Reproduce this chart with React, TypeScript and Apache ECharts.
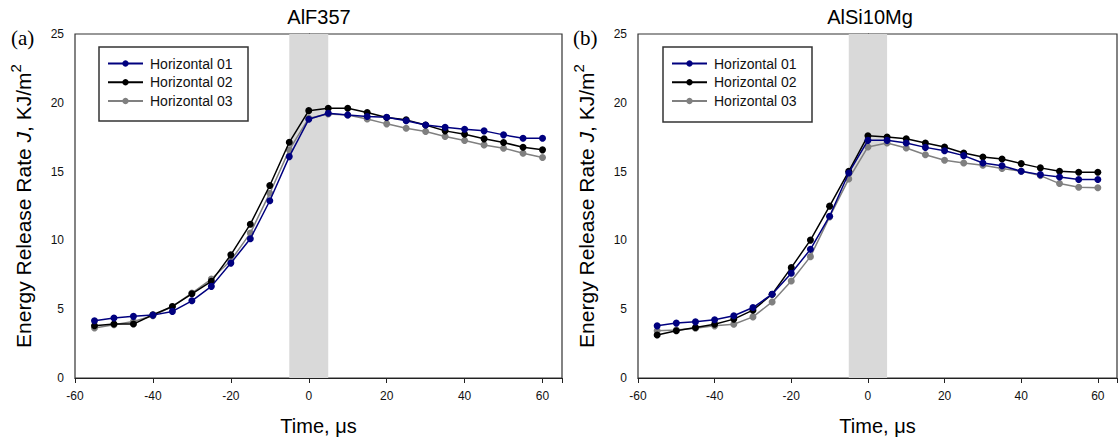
import React, { useEffect, useRef } from "react";
import * as echarts from "echarts";

const times = [-55, -50, -45, -40, -35, -30, -25, -20, -15, -10, -5, 0, 5, 10, 15, 20, 25, 30, 35, 40, 45, 50, 55, 60];

const a_h01 = [4.16, 4.36, 4.48, 4.57, 4.84, 5.61, 6.66, 8.35, 10.12, 12.88, 16.09, 18.8, 19.24, 19.12, 19.0, 18.95, 18.7, 18.39, 18.22, 18.08, 17.96, 17.67, 17.42, 17.42];
const a_h02 = [3.8, 3.92, 3.92, 4.6, 5.2, 6.12, 7.02, 8.95, 11.18, 13.99, 17.13, 19.43, 19.6, 19.6, 19.29, 18.93, 18.76, 18.39, 17.96, 17.72, 17.38, 17.11, 16.77, 16.58];
const a_h03 = [3.63, 3.87, 4.11, 4.53, 5.2, 6.17, 7.19, 8.54, 10.53, 13.43, 16.58, 18.88, 19.19, 19.12, 18.83, 18.47, 18.15, 17.91, 17.55, 17.26, 16.94, 16.7, 16.34, 16.02];

const b_h01 = [3.79, 3.99, 4.08, 4.23, 4.52, 5.12, 6.09, 7.61, 9.35, 11.76, 14.9, 17.27, 17.27, 17.08, 16.76, 16.52, 16.16, 15.63, 15.43, 15.02, 14.78, 14.61, 14.42, 14.42];
const b_h02 = [3.12, 3.43, 3.67, 3.91, 4.28, 4.93, 6.09, 8.02, 10.02, 12.49, 15.02, 17.61, 17.51, 17.39, 17.08, 16.79, 16.35, 16.06, 15.92, 15.58, 15.27, 15.02, 14.95, 14.95];
const b_h03 = [3.43, 3.48, 3.62, 3.79, 3.91, 4.44, 5.53, 7.05, 8.82, 11.71, 14.47, 16.79, 17.08, 16.71, 16.23, 15.82, 15.63, 15.46, 15.22, 15.02, 14.71, 14.13, 13.86, 13.82];

const seriesNames = ["Horizontal 01", "Horizontal 02", "Horizontal 03"];
const seriesColors = ["#00007f", "#000000", "#808080"];
const panelTitles = ["AlF357", "AlSi10Mg"];
const panelTags = ["(a)", "(b)"];
const bandRange = [-5, 5];
const xTicks = [-60, -40, -20, 0, 20, 40, 60];

const FONT = "Liberation Sans, Arial, sans-serif";

export default function App() {
  const ref = useRef<HTMLDivElement>(null);
  useEffect(() => {
    if (!ref.current) return;
    const chart = echarts.init(ref.current, null, { renderer: "svg" });
    const grids = [
      { left: 75, top: 34, width: 487, height: 344 },
      { left: 638, top: 34, width: 487, height: 344 },
    ];
    const panels = [
      [a_h01, a_h02, a_h03],
      [b_h01, b_h02, b_h03],
    ];
    const yName = "{a|Energy Release Rate }{i|J}{a|, KJ/m}{s|2}";
    const xAxes = grids.map((_, i) => ({
      type: "value",
      gridIndex: i,
      min: -60,
      max: 65,
      interval: 20,
      name: "Time, μs",
      nameLocation: "middle",
      nameGap: 38,
      nameTextStyle: { fontFamily: FONT, fontSize: 20, color: "#000" },
      axisLine: { lineStyle: { color: "#222", width: 1.2 } },
      axisTick: { show: true, inside: false, length: 5, lineStyle: { color: "#222" } },
      axisLabel: {
        fontFamily: FONT,
        fontSize: 12,
        color: "#111",
        margin: 12,
        formatter: (v: number) => (xTicks.indexOf(v) >= 0 ? String(v) : ""),
      },
      splitLine: { show: false },
    }));
    const yAxes = grids.map((_, i) => ({
      type: "value",
      gridIndex: i,
      min: 0,
      max: 25,
      interval: 5,
      name: yName,
      nameLocation: "middle",
      nameRotate: 90,
      nameGap: 37,
      nameTextStyle: {
        rich: {
          a: { fontFamily: FONT, fontSize: 21, color: "#000", lineHeight: 30 },
          i: { fontFamily: FONT, fontSize: 21, fontStyle: "italic", color: "#000", lineHeight: 30 },
          s: { fontFamily: FONT, fontSize: 15, color: "#000", verticalAlign: "top", lineHeight: 15 },
        },
      },
      axisLine: { show: true, lineStyle: { color: "#222", width: 1.2 } },
      axisTick: { show: true, inside: false, length: 5, lineStyle: { color: "#222" } },
      axisLabel: { fontFamily: FONT, fontSize: 12, color: "#111", margin: 11 },
      splitLine: { show: false },
    }));
    const series: any[] = [];
    panels.forEach((sets, p) => {
      series.push({
        type: "line",
        name: "band" + p,
        xAxisIndex: p,
        yAxisIndex: p,
        data: [],
        z: 1,
        silent: true,
        markArea: {
          silent: true,
          itemStyle: { color: "#d9d9d9" },
          data: [[{ xAxis: bandRange[0] }, { xAxis: bandRange[1] }]],
        },
      });
      sets.forEach((vals, k) => {
        series.push({
          type: "line",
          name: seriesNames[k],
          xAxisIndex: p,
          yAxisIndex: p,
          z: 3 + (2 - k),
          data: times.map((t, j) => [t, vals[j]]),
          symbol: "circle",
          symbolSize: 7,
          lineStyle: { color: seriesColors[k], width: 1.5 },
          itemStyle: { color: seriesColors[k] },
        });
      });
    });
    const legendBoxes = [
      { x: 99, y: 47, w: 149, h: 74 },
      { x: 663, y: 47, w: 149, h: 75 },
    ];
    const legends = legendBoxes.map((b) => ({
      orient: "vertical",
      left: b.x + 8,
      top: b.y + 9,
      itemWidth: 35,
      itemHeight: 8,
      itemGap: 3.7,
      padding: 0,
      data: seriesNames,
      selectedMode: false,
      textStyle: { fontFamily: FONT, fontSize: 14, lineHeight: 15, color: "#111", padding: [0, 0, 0, 2] },
    }));
    const graphic: any[] = [];
    legendBoxes.forEach((b) => {
      graphic.push({
        type: "rect",
        shape: { x: b.x, y: b.y, width: b.w, height: b.h },
        style: { fill: "#fff", stroke: "#333", lineWidth: 1.5 },
        z: 2,
      });
    });
    const titleX = [319, 870];
    panelTitles.forEach((t, i) => {
      graphic.push({
        type: "text",
        x: titleX[i],
        y: 17,
        style: { text: t, fontFamily: FONT, fontSize: 20, fill: "#000", align: "center", verticalAlign: "middle" },
      });
    });
    const tagX = [11, 573];
    panelTags.forEach((t, i) => {
      graphic.push({
        type: "text",
        x: tagX[i],
        y: 38,
        style: { text: t, fontFamily: "Liberation Serif, Times New Roman, serif", fontSize: 21, fill: "#000", align: "left", verticalAlign: "middle" },
      });
    });
    chart.setOption({
      animation: false,
      backgroundColor: "#fff",
      grid: grids.map((g) => ({ ...g, show: true, borderColor: "#333", borderWidth: 1.2, backgroundColor: "transparent" })),
      xAxis: xAxes,
      yAxis: yAxes,
      legend: legends,
      series,
      graphic,
    });
    return () => chart.dispose();
  }, []);
  return <div ref={ref} style={{ position: "fixed", left: 0, top: 0, width: 1120, height: 445 }} />;
}
